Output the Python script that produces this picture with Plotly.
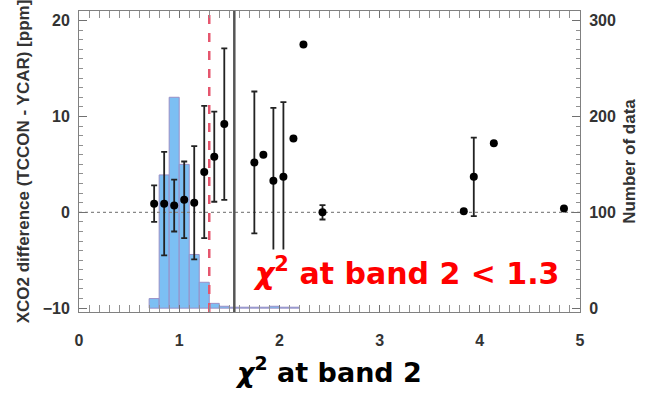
import numpy as np
import plotly.graph_objects as go

# ---- data ----
chi_points = [0.75, 0.85, 0.95, 1.05, 1.15, 1.25, 1.35, 1.45, 1.75, 1.84, 1.94, 2.04,
              2.14, 2.24, 2.43, 3.84, 3.94, 4.14, 4.84]
xco2_diff = [0.9, 0.9, 0.7, 1.3, 1.0, 4.2, 5.8, 9.2, 5.2, 6.0, 3.3, 3.7,
             7.7, 17.5, 0.0, 0.1, 3.7, 7.2, 0.4]
xco2_err = [1.9, 5.4, 2.7, 4.0, 5.9, 6.9, 4.7, 7.9, 7.4, np.nan, 7.6, 7.8,
            np.nan, np.nan, 0.75, np.nan, 4.1, np.nan, np.nan]

hist_centers = [0.75, 0.85, 0.95, 1.05, 1.15, 1.25, 1.35, 1.45, 1.55, 1.65, 1.75,
                1.85, 1.95, 2.05, 2.15]
hist_counts = [10, 139, 220, 150, 56, 27, 5, 2, 1, 1, 1, 1, 2, 1, 1]

chi_cut = 1.3        # red dashed threshold
chi_line = 1.55      # grey solid line
y_range = [-10.4, 21]
count_range = [(y_range[0] + 10) * 10, (y_range[1] + 10) * 10]

FONT = "Liberation Sans, Arial, sans-serif"
fig = go.Figure()

# histogram on the primary (count) axis, drawn underneath
fig.add_trace(go.Bar(
    x=hist_centers, y=hist_counts, width=0.1, yaxis="y",
    marker=dict(color="#7cbff3", line=dict(color="#9a8fc6", width=1)),
    showlegend=False))

fig.add_trace(go.Scatter(
    x=[0, 5], y=[0, 0], mode="lines", yaxis="y2",
    line=dict(color="#888888", width=1.2, dash="dot"), showlegend=False))

fig.add_trace(go.Scatter(
    x=[chi_cut, chi_cut], y=y_range, mode="lines", yaxis="y2",
    line=dict(color="#e5566e", width=2.5, dash="dash"), showlegend=False))
fig.add_trace(go.Scatter(
    x=[chi_line, chi_line], y=y_range, mode="lines", yaxis="y2",
    line=dict(color="#555555", width=2.5), showlegend=False))

fig.add_trace(go.Scatter(
    x=chi_points, y=xco2_diff, mode="markers", yaxis="y2",
    marker=dict(color="black", size=8),
    error_y=dict(type="data", array=xco2_err, visible=True,
                 color="#222222", thickness=1.8, width=3),
    showlegend=False))

axis_common = dict(showgrid=False, zeroline=False, ticks="inside",
                   linecolor="#808080", tickcolor="#707070", showline=True,
                   tickfont=dict(family=FONT, size=16, color="#333333", weight="bold"))

fig.update_layout(
    width=646, height=393,
    margin=dict(l=79, r=59, t=10, b=81),
    plot_bgcolor="white", paper_bgcolor="white",
    xaxis=dict(range=[0, 5], tickvals=[0, 1, 2, 3, 4, 5], ticklen=7,
               mirror="allticks", minor=dict(dtick=0.1, ticklen=3, ticks="inside", tickcolor="#909090"),
               ticklabelstandoff=14,
               title=dict(text="<i>χ</i><sup>2</sup> at band 2",
                          font=dict(family="DejaVu Sans", size=27, color="black", weight="bold"),
                          standoff=14),
               **axis_common),
    yaxis=dict(range=count_range, side="right", tickvals=[0, 100, 200, 300],
               ticklen=8, minor=dict(dtick=10, ticklen=4, ticks="inside", tickcolor="#909090"),
               ticklabelstandoff=5,
               title=dict(text="Number of data",
                          font=dict(family=FONT, size=17, color="#333333", weight="bold"),
                          standoff=8),
               **axis_common),
    yaxis2=dict(range=y_range, overlaying="y", side="left", tickvals=[-10, 0, 10, 20], ticklen=8,
                minor=dict(dtick=1, ticklen=4, ticks="inside", tickcolor="#909090"),
                ticklabelstandoff=5,
                title=dict(text="XCO2 difference (TCCON - YCAR) [ppm]",
                           font=dict(family=FONT, size=17, color="#333333", weight="bold"),
                           standoff=8),
                **axis_common),
)

fig.add_annotation(
    x=3.27, y=-6.2, xref="x", yref="y2",
    text="<i>χ</i><sup>2</sup> at band 2 &lt; 1.3",
    showarrow=False, xanchor="center", yanchor="middle",
    font=dict(family="DejaVu Sans", size=30, color="#ff0000", weight="bold"),
    bgcolor="white", borderpad=2)

fig.write_html("out.html")
